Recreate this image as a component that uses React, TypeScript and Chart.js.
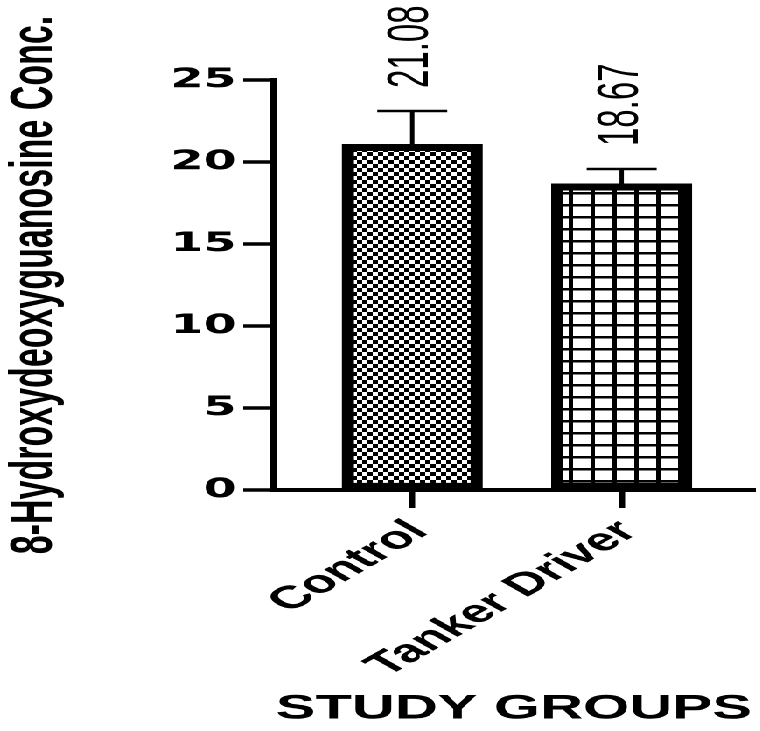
import { useEffect, useRef } from "react";
import { Chart, registerables } from "chart.js";

Chart.register(...registerables);

const categories = ["Control", "Tanker Driver"];
const means = [21.08, 18.67];
const errors = [2.03, 0.9];
const valueLabels = ["21.08", "18.67"];
const yTicks = [0, 5, 10, 15, 20, 25];

const STRETCH = 1.75;
const W = 760;
const H = 731;

function makeChecker(ctx: CanvasRenderingContext2D) {
  const c = document.createElement("canvas");
  c.width = 12;
  c.height = 16;
  const g = c.getContext("2d")!;
  g.fillStyle = "#fff";
  g.fillRect(0, 0, 12, 16);
  g.fillStyle = "#000";
  g.fillRect(0, 0, 6, 8);
  g.fillRect(6, 8, 6, 8);
  const p = ctx.createPattern(c, "repeat")!;
  p.setTransform(new DOMMatrix().scale(0.5));
  return p;
}

function makeGrid(ctx: CanvasRenderingContext2D) {
  const c = document.createElement("canvas");
  c.width = 25;
  c.height = 24;
  const g = c.getContext("2d")!;
  g.fillStyle = "#fff";
  g.fillRect(0, 0, 25, 24);
  g.fillStyle = "#000";
  g.fillRect(0, 0, 5, 24);
  g.fillRect(0, 0, 25, 5);
  const p = ctx.createPattern(c, "repeat")!;
  p.setTransform(new DOMMatrix().scale(0.5));
  return p;
}

const errorBarPlugin = {
  id: "errorBars",
  afterDatasetsDraw(chart: any) {
    const { ctx, scales } = chart;
    const x = scales.x;
    const y = scales.y;
    ctx.save();
    ctx.strokeStyle = "#000";
    ctx.fillStyle = "#000";
    ctx.lineWidth = 2.5;
    means.forEach((m, i) => {
      const cx = x.getPixelForValue(i);
      const top = y.getPixelForValue(m);
      const hi = y.getPixelForValue(m + errors[i]);
      ctx.beginPath();
      ctx.moveTo(cx, top);
      ctx.lineTo(cx, hi);
      ctx.moveTo(cx - 20, hi);
      ctx.lineTo(cx + 20, hi);
      ctx.stroke();
      ctx.save();
      ctx.translate(cx, hi - 23);
      ctx.rotate(-Math.PI / 2);
      ctx.font = '33px "Liberation Sans"';
      ctx.textAlign = "left";
      ctx.textBaseline = "middle";
      ctx.fillText(valueLabels[i], 0, 0);
      ctx.restore();
    });
    ctx.restore();
  },
};

export default function App() {
  const ref = useRef<HTMLCanvasElement | null>(null);

  useEffect(() => {
    const canvas = ref.current!;
    const ctx = canvas.getContext("2d")!;
    const chart = new Chart(canvas, {
      type: "bar",
      data: {
        datasets: [
          {
            data: means.map((v, i) => ({ x: i, y: v })),
            backgroundColor: [makeChecker(ctx), makeGrid(ctx)],
            borderColor: "#000",
            borderWidth: 7,
            borderSkipped: false,
            barThickness: 80,
          } as any,
        ],
      },
      options: {
        animation: false,
        responsive: true,
        maintainAspectRatio: false,
        devicePixelRatio: 2,
        layout: { padding: { top: 80, right: 3, left: 0, bottom: 0 } },
        plugins: {
          legend: { display: false },
          tooltip: { enabled: false },
        },
        scales: {
          x: {
            type: "linear",
            offset: false,
            min: -0.665,
            max: 1.635,
            afterBuildTicks: (s: any) => {
              s.ticks = categories.map((_, i) => ({ value: i }));
            },
            afterFit: (s: any) => {
              s.height = 241;
            },
            ticks: {
              callback: (v: any) => categories[v as number] ?? "",
              minRotation: 45,
              maxRotation: 45,
              color: "#000",
              padding: 5,
              labelOffset: 4,
              font: { family: "Liberation Sans", weight: "bold", size: 32 },
            },
            grid: {
              offset: false,
              drawOnChartArea: false,
              tickLength: 18,
              tickWidth: 3.5,
              tickColor: "#000",
              color: "#000",
            },
            border: { color: "#000", width: 4 },
            title: {
              display: true,
              text: "STUDY GROUPS",
              color: "#000",
              font: { family: "Liberation Sans", weight: "bold", size: 34, lineHeight: 1 },
              padding: { top: 0, bottom: 5 },
            },
          } as any,
          y: {
            min: 0,
            max: 25,
            afterBuildTicks: (s: any) => {
              s.ticks = yTicks.map((v) => ({ value: v }));
            },
            afterFit: (s: any) => {
              s.width = 156;
            },
            ticks: {
              color: "#000",
              padding: 4,
              font: { family: "DejaVu Sans", weight: "bold", size: 27 },
            },
            grid: {
              drawOnChartArea: false,
              tickLength: 17,
              tickWidth: 3.5,
              tickColor: "#000",
              color: "#000",
            },
            border: { color: "#000", width: 4 },
            title: {
              display: true,
              text: "8-Hydroxydeoxyguanosine Conc.",
              color: "#000",
              font: { family: "Liberation Sans", weight: "bold", size: 34, lineHeight: 1 },
              padding: { top: 3, bottom: 10 },
            },
          } as any,
        },
      },
      plugins: [errorBarPlugin],
    });
    return () => chart.destroy();
  }, []);

  return (
    <div
      style={{
        position: "absolute",
        left: 0,
        top: 0,
        width: W / STRETCH,
        height: H,
        transform: `scaleX(${STRETCH})`,
        transformOrigin: "0 0",
        background: "#fff",
      }}
    >
      <canvas ref={ref} />
    </div>
  );
}
